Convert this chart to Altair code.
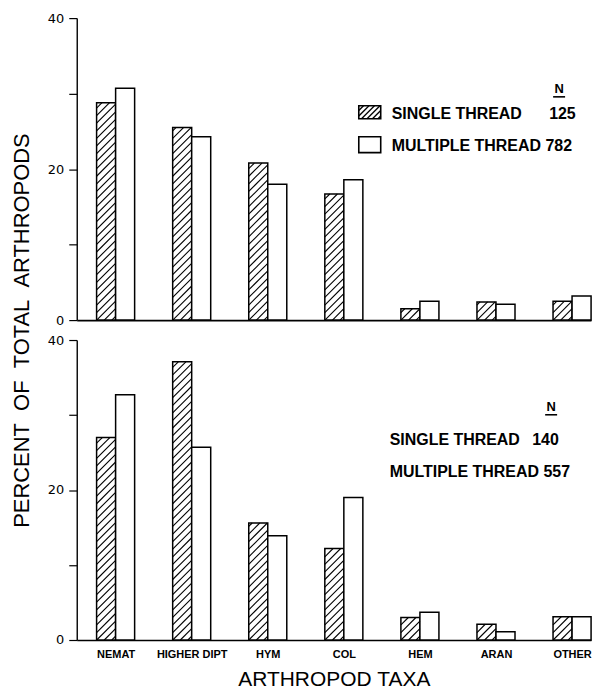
import json
import altair as alt
import pandas as pd

# ---------------- data ----------------
categories = ["NEMAT", "HIGHER DIPT", "HYM", "COL", "HEM", "ARAN", "OTHER"]
top_single = [28.8, 25.5, 20.8, 16.7, 1.5, 2.4, 2.5]
top_multiple = [30.7, 24.3, 18.0, 18.6, 2.5, 2.1, 3.2]
bottom_single = [27.0, 37.1, 15.6, 12.2, 3.0, 2.1, 3.1]
bottom_multiple = [32.7, 25.7, 13.9, 19.0, 3.7, 1.1, 3.1]
series_names = ["SINGLE THREAD", "MULTIPLE THREAD"]
top_n = [125, 782]
bottom_n = [140, 557]
y_tick_values = [0, 10, 20, 30, 40]
y_label_values = [0, 20, 40]

# ---------------- layout constants ----------------
W = 516
H_TOP = 303
H_BOT = 301
X_DOMAIN = [-0.511, 6.249]
BW = 0.25               # bar width in category units
Y_MAX = 40
KX = W / (X_DOMAIN[1] - X_DOMAIN[0])
HATCH_STEP = 7.6
FONT = "Liberation Sans"
NB = "\u00a0"


def hatch_px(w, h, step=HATCH_STEP):
    """45-degree hatch segments inside a w x h box (y up from bottom-left)."""
    segs = []
    c = -w + step * 0.5
    while c < h:
        xa = max(0.0, -c)
        xb = min(w, h - c)
        if xb - xa > 0.6:
            segs.append((xa, c + xa, xb, c + xb))
        c += step
    return segs


def bars_df(single, multiple):
    rows = []
    for i, c in enumerate(categories):
        rows.append(dict(cat=c, idx=i, series="single", value=single[i]))
        rows.append(dict(cat=c, idx=i, series="multiple", value=multiple[i]))
    return pd.DataFrame(rows)


def hatch_df(single, h):
    ky = h / Y_MAX
    rows = []
    for i, v in enumerate(single):
        xl = i - BW
        for xa, ya, xb, yb in hatch_px(BW * KX, v * ky):
            rows.append(dict(x=xl + xa / KX, y=ya / ky, x2=xl + xb / KX, y2=yb / ky))
    return pd.DataFrame(rows)


def swatch_hatch_df(x0, y0, w, h):
    rows = []
    for xa, ya, xb, yb in hatch_px(w, h, step=5.5):
        rows.append(dict(px=x0 + xa, py=y0 + h - ya, px2=x0 + xb, py2=y0 + h - yb))
    return pd.DataFrame(rows)


label_expr = json.dumps(categories) + "[datum.value]"
ylab_expr = "indexof(" + json.dumps(y_label_values) + ", datum.value) >= 0 ? datum.label : ''"
y_title = (NB * 2).join(["PERCENT", "OF", "TOTAL", "ARTHROPODS"])


def panel(single, multiple, h, bottom, n_vals):
    xscale = alt.Scale(domain=X_DOMAIN, nice=False, zero=False)
    yscale = alt.Scale(domain=[0, Y_MAX], nice=False)
    if bottom:
        xaxis = alt.Axis(values=list(range(len(categories))), labelExpr=label_expr,
                         ticks=False, grid=False, domainColor="black", domainWidth=1.7,
                         labelFont=FONT, labelFontWeight="bold", labelFontSize=11,
                         labelColor="black", labelPadding=9, labelFlush=False,
                         labelOverlap=False, title="ARTHROPOD" + NB + "TAXA", titleFont=FONT,
                         titleFontSize=21, titleFontWeight="normal", titleColor="black",
                         titlePadding=9)
    else:
        xaxis = alt.Axis(labels=False, ticks=False, grid=False, domainColor="black",
                         domainWidth=1.7, title=None)
    yaxis_kw = dict(values=y_tick_values, labelExpr=ylab_expr, grid=False,
                    domainColor="black", domainWidth=1.4, tickColor="black",
                    tickWidth=1.2, tickSize=8, labelFont="DejaVu Sans",
                    labelFontSize=13, labelColor="black", labelPadding=5,
                    labelFlush=False)
    if bottom:
        yaxis = alt.Axis(title=None, **yaxis_kw)
    else:
        yaxis = alt.Axis(title=y_title, titleFont=FONT,
                         titleFontSize=22, titleFontWeight="normal", titleColor="black",
                         titleAngle=270, titleX=-55, titleY=h + 10, titleAlign="center",
                         titleBaseline="middle", **yaxis_kw)

    bars = alt.Chart(bars_df(single, multiple)).transform_calculate(
        xl="datum.idx + (datum.series == 'single' ? -%s : 0)" % BW,
        xr="datum.idx + (datum.series == 'single' ? 0 : %s)" % BW,
    ).mark_rect(fill="white", stroke="black", strokeWidth=1.5).encode(
        x=alt.X("xl:Q", scale=xscale, axis=xaxis),
        x2="xr:Q",
        y=alt.Y("value:Q", scale=yscale, axis=yaxis),
        y2=alt.datum(0),
    )
    hatch = alt.Chart(hatch_df(single, h)).mark_rule(color="black", strokeWidth=1.1).encode(
        x="x:Q", x2="x2:Q", y="y:Q", y2="y2:Q"
    )

    # ---- legend / annotation (pixel positions relative to plot area) ----
    if bottom:
        nx, ny, lx, ly1, ly2, n1x = 476, 67, 314, 100, 132, 533 - 76
    else:
        nx, ny, lx, ly1, ly2, n1x = 484, 71, 316, 96, 128, 550 - 76
    txt = dict(font=FONT, fontSize=16, fontWeight="bold", color="black",
               baseline="middle", align="left")
    n_mark = alt.Chart(pd.DataFrame({"t": ["N"]})).mark_text(
        font=FONT, fontSize=13, fontWeight="bold", color="black", baseline="middle",
        align="center").encode(x=alt.value(nx), y=alt.value(ny), text="t:N")
    n_line = alt.Chart(pd.DataFrame({"t": ["N"]})).mark_rule(color="black", strokeWidth=1.6).encode(
        x=alt.value(nx - 6), x2=alt.value(nx + 6), y=alt.value(ny + 8))
    row1 = alt.Chart(pd.DataFrame({"t": [series_names[0]]})).mark_text(**txt).encode(
        x=alt.value(lx), y=alt.value(ly1), text="t:N")
    row1n = alt.Chart(pd.DataFrame({"t": [str(n_vals[0])]})).mark_text(**txt).encode(
        x=alt.value(n1x), y=alt.value(ly1), text="t:N")
    row2 = alt.Chart(pd.DataFrame({"t": [f"{series_names[1]} {n_vals[1]}"]})).mark_text(**txt).encode(
        x=alt.value(lx), y=alt.value(ly2), text="t:N")
    layers = [bars, hatch, n_mark, n_line, row1, row1n, row2]
    if not bottom:
        sx, sw = 283, 22
        sw1 = alt.Chart(pd.DataFrame({"t": ["a"]})).mark_rect(
            fill="white", stroke="black", strokeWidth=1.6).encode(
            x=alt.value(sx), x2=alt.value(sx + sw), y=alt.value(88), y2=alt.value(101))
        sw1h = alt.Chart(swatch_hatch_df(sx, 88, sw, 13)).mark_rule(
            color="black", strokeWidth=1.3).encode(
            x=alt.X("px:Q", scale=None), x2="px2:Q",
            y=alt.Y("py:Q", scale=None), y2="py2:Q")
        sw2 = alt.Chart(pd.DataFrame({"t": ["b"]})).mark_rect(
            fill="white", stroke="black", strokeWidth=1.6).encode(
            x=alt.value(sx), x2=alt.value(sx + sw), y=alt.value(119), y2=alt.value(135))
        layers += [sw1, sw1h, sw2]
    return alt.layer(*layers).properties(width=W, height=h)


top = panel(top_single, top_multiple, H_TOP, False, top_n)
bot = panel(bottom_single, bottom_multiple, H_BOT, True, bottom_n)

chart = alt.VConcatChart(vconcat=[top, bot], spacing=20, bounds="flush").properties(
    padding={"left": 11, "top": 11, "right": 0, "bottom": 0},
    background="white",
).configure_view(strokeWidth=0)

chart.save("out.html", embed_options={"renderer": "svg", "actions": False})
